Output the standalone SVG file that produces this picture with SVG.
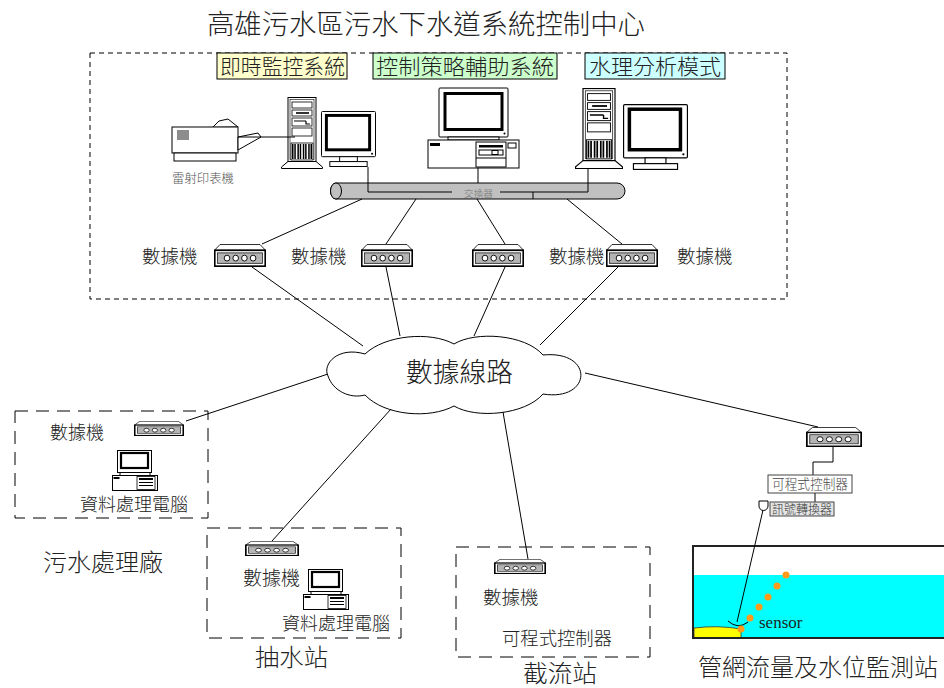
<svg xmlns="http://www.w3.org/2000/svg" xmlns:xlink="http://www.w3.org/1999/xlink" width="944" height="688" viewBox="0 0 944 688">
  <style>
    .cjk { font-family: "Noto Sans CJK TC", "Noto Sans CJK SC", sans-serif; font-weight: 300; fill: #222; }
    .ln { stroke: #000; stroke-width: 1; fill: none; }
    .ol { stroke: #000; stroke-width: 1; fill: #fff; }
    .dash-s { stroke: #000; stroke-width: 1; fill: none; stroke-dasharray: 5 4; }
    .dash-l { stroke: #000; stroke-width: 1; fill: none; stroke-dasharray: 13 8; }
  </style>
  <defs>
    <!-- modem: trapezoid lid on a box with a grey panel of four lamps -->
    <symbol id="modem" viewBox="0 0 52 22" preserveAspectRatio="none">
      <polygon points="6,0.5 46,0.5 51.5,6 0.5,6" fill="#fff" stroke="#000" stroke-width="0.8"/>
      <rect x="0.8" y="6" width="50.4" height="15.2" fill="#fff" stroke="#000" stroke-width="1.6"/>
      <rect x="3.5" y="8.5" width="45" height="10" fill="#b4b4b4" stroke="#222" stroke-width="0.8"/>
      <g fill="#fff" stroke="#000" stroke-width="0.9">
        <circle cx="13" cy="13.5" r="2.8"/>
        <circle cx="21.7" cy="13.5" r="2.8"/>
        <circle cx="30.4" cy="13.5" r="2.8"/>
        <circle cx="39.1" cy="13.5" r="2.8"/>
      </g>
    </symbol>
    <!-- tower case -->
    <symbol id="tower" viewBox="0 0 42 72" preserveAspectRatio="none">
      <rect x="7" y="0.5" width="28" height="64" fill="#fff" stroke="#000"/>
      <rect x="9" y="2.5" width="24" height="60" fill="none" stroke="#000" stroke-width="0.6"/>
      <rect x="11" y="5" width="20" height="6" fill="#fff" stroke="#000" stroke-width="0.8"/>
      <rect x="11" y="13" width="20" height="6" fill="#fff" stroke="#000" stroke-width="0.8"/>
      <path d="M15 16h13" stroke="#000" stroke-width="1.6"/>
      <rect x="11" y="21" width="20" height="8" fill="#fff" stroke="#000" stroke-width="0.8"/>
      <path d="M13 24h12 M25 24v3h4" stroke="#000" stroke-width="1.2" fill="none"/>
      <rect x="11" y="31" width="20" height="8" fill="#fff" stroke="#000" stroke-width="0.8"/>
      <rect x="10" y="46" width="22" height="17" fill="#fff" stroke="#000" stroke-width="0.8"/>
      <g fill="#000">
        <rect x="11" y="47" width="1.5" height="15"/><rect x="13.3" y="47" width="1.5" height="15"/>
        <rect x="16.4" y="47" width="1.5" height="15"/><rect x="18.7" y="47" width="1.5" height="15"/>
        <rect x="21.8" y="47" width="1.5" height="15"/><rect x="24.1" y="47" width="1.5" height="15"/>
        <rect x="27.2" y="47" width="1.5" height="15"/><rect x="29.5" y="47" width="1.5" height="15"/>
      </g>
      <path d="M7 64.5 L0.5 70 V71.5 H41.5 V70 L35 64.5 Z" fill="#fff" stroke="#000"/>
    </symbol>
    <!-- CRT monitor on a stand -->
    <symbol id="monitor" viewBox="0 0 56 57" preserveAspectRatio="none">
      <rect x="0.5" y="0.5" width="55" height="46" rx="1" fill="#fff" stroke="#000"/>
      <rect x="5.5" y="4.5" width="44" height="35" fill="#fff" stroke="#000" stroke-width="3"/>
      <circle cx="52" cy="43.5" r="1"/>
      <rect x="19" y="46.5" width="18" height="5" fill="#fff" stroke="#000"/>
      <rect x="9" y="51.5" width="38" height="5" fill="#fff" stroke="#000"/>
    </symbol>
    <!-- small desktop PC -->
    <symbol id="pc" viewBox="0 0 46 41" preserveAspectRatio="none">
      <rect x="5.5" y="0.5" width="34" height="22" fill="#fff" stroke="#000"/>
      <rect x="9" y="3" width="27" height="15" fill="#fff" stroke="#000" stroke-width="2.2"/>
      <rect x="8" y="22.5" width="30" height="3" fill="#fff" stroke="#000"/>
      <rect x="0.5" y="25.5" width="45" height="15" fill="#fff" stroke="#000"/>
      <rect x="1.5" y="27" width="6" height="2" fill="#000"/>
      <rect x="25" y="26.5" width="18" height="13" fill="#fff" stroke="#000" stroke-width="0.8"/>
      <rect x="27" y="28" width="14" height="2" fill="#000"/>
      <path d="M27 32.5h14 M27 35.5h14" stroke="#000" stroke-width="1"/>
    </symbol>
  </defs>

  <!-- title -->
  <text class="cjk" x="207" y="34" font-size="27" textLength="438" lengthAdjust="spacingAndGlyphs">高雄污水區污水下水道系統控制中心</text>

  <!-- control centre frame -->
  <rect class="dash-s" x="90" y="53" width="697" height="246"/>

  <!-- subsystem labels -->
  <g id="lbl-monitor">
    <rect x="217" y="53" width="130" height="26" fill="#ffffcc" stroke="#000"/>
    <text class="cjk" x="220" y="74" font-size="21" textLength="125" lengthAdjust="spacingAndGlyphs">即時監控系統</text>
  </g>
  <g id="lbl-strategy">
    <rect x="373" y="53" width="184" height="26" fill="#ccffcc" stroke="#000"/>
    <text class="cjk" x="376" y="74" font-size="21" textLength="178" lengthAdjust="spacingAndGlyphs">控制策略輔助系統</text>
  </g>
  <g id="lbl-hydraulic">
    <rect x="585" y="53" width="140" height="26" fill="#ccffff" stroke="#000"/>
    <text class="cjk" x="589" y="74" font-size="21" textLength="132" lengthAdjust="spacingAndGlyphs">水理分析模式</text>
  </g>

  <!-- laser printer -->
  <g id="printer">
    <polygon class="ol" points="172,128 212,128 219,121 228,119 238,127"/>
    <rect class="ol" x="172" y="127" width="66" height="26"/>
    <rect class="ol" x="174" y="153" width="62" height="8"/>
    <path d="M177 131h12 M177 133h12 M177 135h12 M177 137h12 M177 139h12" stroke="#000" stroke-width="0.9"/>
    <polygon class="ol" points="238,137 258,133 261,137 238,150"/>
    <text class="cjk" x="172" y="183" font-size="12.5" textLength="62" lengthAdjust="spacingAndGlyphs" style="fill:#555">雷射印表機</text>
  </g>

  <!-- workstations -->
  <g id="ws-monitor">
    <use xlink:href="#tower" x="281" y="97" width="42" height="72"/>
    <use xlink:href="#monitor" x="321" y="111" width="55" height="56"/>
  </g>
  <g id="ws-strategy">
    <rect class="ol" x="439" y="88" width="69" height="49" rx="1"/>
    <rect x="445" y="93.5" width="57" height="36" fill="#fff" stroke="#000" stroke-width="3"/>
    <circle cx="504.5" cy="133.5" r="1"/>
    <rect class="ol" x="448" y="137" width="51" height="3"/>
    <rect class="ol" x="428" y="140" width="91" height="28"/>
    <rect x="430" y="143" width="10" height="3" fill="#000"/>
    <rect class="ol" x="476" y="142" width="30" height="25"/>
    <rect x="479" y="145" width="24" height="2.5" fill="#000"/>
    <rect class="ol" x="479" y="150" width="24" height="5"/>
    <rect class="ol" x="492" y="150.5" width="6" height="4"/>
    <path d="M476 158h30" stroke="#000"/>
    <rect class="ol" x="508" y="143" width="8" height="5"/>
  </g>
  <g id="ws-hydraulic">
    <use xlink:href="#tower" x="575" y="88" width="48" height="81"/>
    <use xlink:href="#monitor" x="623" y="104" width="65" height="66"/>
  </g>

  <!-- switch -->
  <g id="switch">
    <path d="M336,183 H617 A8,8 0 0 1 617,199 H336 A5.5,8 0 0 1 336,183 Z" fill="#c0c0c0" stroke="#000"/>
    <ellipse cx="336" cy="191" rx="5.5" ry="8" fill="#c0c0c0" stroke="#000"/>
    <text class="cjk" x="464" y="197" font-size="9.5" textLength="29" lengthAdjust="spacingAndGlyphs" style="fill:#777">交換器</text>
  </g>

  <!-- data network cloud -->
  <g id="cloud">
    <path class="ol" d="M365,354 C338,346 322,364 328,376 C333,391 350,399 365,395 C385,416 430,419 454,406 C476,419 525,415 543,394 C592,402 595,350 543,355 C525,334 475,331 454,344 C430,331 385,335 365,354 Z"/>
    <text class="cjk" x="406" y="382" font-size="27" textLength="107" lengthAdjust="spacingAndGlyphs">數據線路</text>
  </g>

  <!-- modems of the control centre -->
  <g id="modem-1"><use xlink:href="#modem" x="214" y="244" width="52" height="23"/>
    <text class="cjk" x="142" y="263" font-size="18.5">數據機</text></g>
  <g id="modem-2"><use xlink:href="#modem" x="361" y="244" width="52" height="23"/>
    <text class="cjk" x="291" y="263" font-size="18.5">數據機</text></g>
  <g id="modem-3"><use xlink:href="#modem" x="472" y="244" width="52" height="23"/></g>
  <g id="modem-4"><use xlink:href="#modem" x="606" y="244" width="52" height="23"/>
    <text class="cjk" x="549" y="263" font-size="18.5">數據機</text>
    <text class="cjk" x="677" y="263" font-size="18.5">數據機</text></g>

  <!-- sewage treatment plant -->
  <g id="plant">
    <rect class="dash-l" x="15" y="411" width="193" height="107"/>
    <use xlink:href="#modem" x="134" y="421" width="50" height="15"/>
    <text class="cjk" x="50" y="439" font-size="18">數據機</text>
    <use xlink:href="#pc" x="112" y="450" width="46" height="41"/>
    <text class="cjk" x="80" y="511" font-size="18" textLength="108" lengthAdjust="spacingAndGlyphs">資料處理電腦</text>
    <text class="cjk" x="43" y="571" font-size="24" textLength="120" lengthAdjust="spacingAndGlyphs">污水處理廠</text>
  </g>

  <!-- pumping station -->
  <g id="pump">
    <rect class="dash-l" x="207" y="528" width="194" height="110"/>
    <use xlink:href="#modem" x="245" y="541" width="54" height="15"/>
    <text class="cjk" x="243" y="585" font-size="19">數據機</text>
    <use xlink:href="#pc" x="303" y="569" width="46" height="41"/>
    <text class="cjk" x="282" y="630" font-size="18" textLength="108" lengthAdjust="spacingAndGlyphs">資料處理電腦</text>
    <text class="cjk" x="255" y="666" font-size="24" textLength="73" lengthAdjust="spacingAndGlyphs">抽水站</text>
  </g>

  <!-- interceptor station -->
  <g id="intercept">
    <rect class="dash-l" x="456" y="547" width="194" height="110"/>
    <use xlink:href="#modem" x="494" y="559" width="52" height="15"/>
    <text class="cjk" x="483" y="604" font-size="18.5">數據機</text>
    <text class="cjk" x="502" y="645" font-size="18.3" textLength="110" lengthAdjust="spacingAndGlyphs">可程式控制器</text>
    <text class="cjk" x="523" y="682" font-size="24" textLength="74" lengthAdjust="spacingAndGlyphs">截流站</text>
  </g>

  <!-- pipe-network flow and level station -->
  <g id="gauge">
    <use xlink:href="#modem" x="806" y="427" width="56" height="20"/>
    <path class="ln" d="M833 447 V462 H813 V475 M815 493 V502"/>
    <rect x="768" y="475" width="84" height="18" fill="#fff" stroke="#444"/>
    <text class="cjk" x="772" y="489" font-size="13.5" textLength="76" lengthAdjust="spacingAndGlyphs" style="fill:#444">可程式控制器</text>
    <rect x="770" y="502" width="64" height="14" fill="#e4e4e4" stroke="#444"/>
    <text class="cjk" x="772" y="513.5" font-size="12.5" textLength="60" lengthAdjust="spacingAndGlyphs" style="fill:#333">訊號轉換器</text>
    <path d="M759,501 h9 v5 a4.5,4.5 0 0 1 -9,0 z" fill="#fff" stroke="#000"/>
    <rect x="694" y="575" width="252" height="63" fill="#00ffff"/>
    <path d="M694,628 Q718,625 741,629 L741,638 L694,638 Z" fill="#ffff00" stroke="#333" stroke-width="0.8"/>
    <rect x="693" y="546" width="262" height="92" fill="none" stroke="#222" stroke-width="2"/>
    <path class="ln" d="M763 510 L737 622"/>
    <path class="ln" d="M728 621 Q738 630 748 622"/>
    <g fill="#ff9a1a">
      <circle cx="786" cy="575" r="3.5"/>
      <circle cx="777" cy="586" r="3.5"/>
      <circle cx="768" cy="597" r="3.5"/>
      <circle cx="759" cy="607" r="3.5"/>
      <circle cx="750" cy="618" r="3.5"/>
      <circle cx="741" cy="629" r="3.5"/>
    </g>
    <text x="759" y="628" font-family="'Liberation Serif', serif" font-size="17" fill="#222">sensor</text>
    <text class="cjk" x="698" y="676" font-size="24" textLength="240" lengthAdjust="spacingAndGlyphs">管網流量及水位監測站</text>
  </g>

  <!-- connectors -->
  <g id="connectors" class="ln">
    <path d="M368 167 V192 H452 M500 192 H588 V168 M533 192 V199 M478 168 V183"/>
    <path d="M295 137 H238"/>
    <path d="M362 199 L262 244"/>
    <path d="M416 199 L386 244"/>
    <path d="M477 199 L505 244"/>
    <path d="M567 199 L622 244"/>
    <path d="M252 267 L363 346"/>
    <path d="M386 267 L400 336"/>
    <path d="M505 267 L474 336"/>
    <path d="M618 267 L540 345"/>
    <path d="M328 374 L186 421"/>
    <path d="M391 409 L272 541"/>
    <path d="M503 412 L528 559"/>
    <path d="M585 373 L818 427"/>
  </g>
</svg>
